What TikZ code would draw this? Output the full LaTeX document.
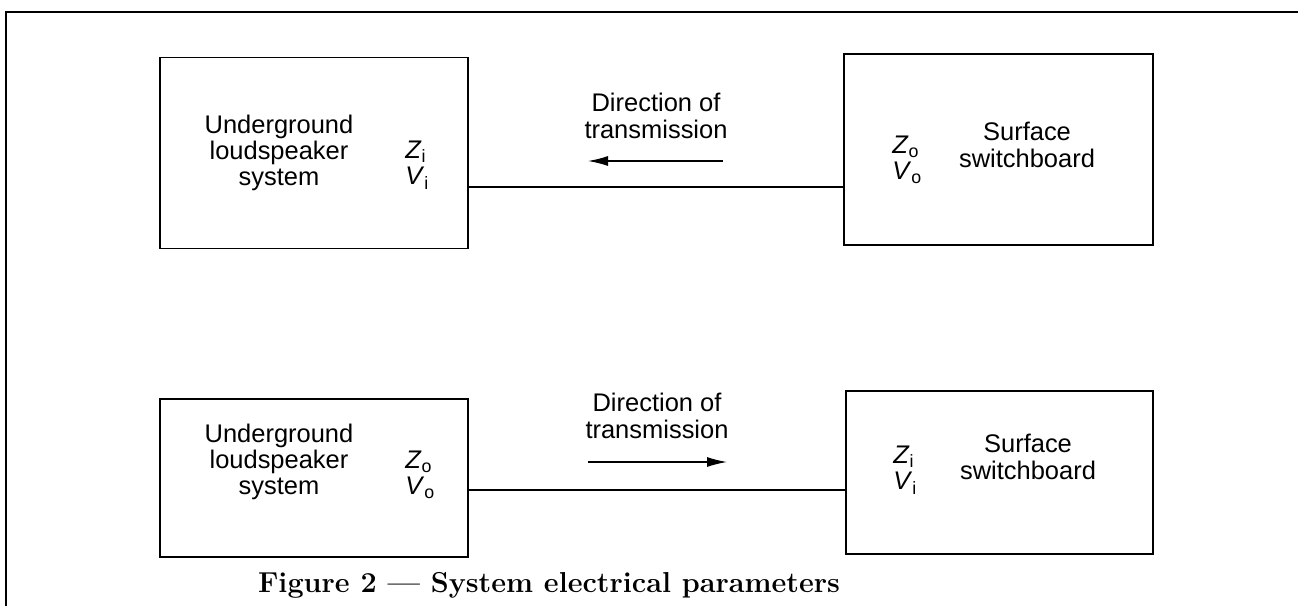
\documentclass[tikz,border=0pt]{standalone}
\usepackage{fontspec}
\usetikzlibrary{arrows.meta,positioning}
\newfontfamily\drawfont{Liberation Sans}
\tikzset{
  frame/.style={line width=1.2pt},
  box/.style={
    draw,
    line width=1pt,
    minimum width=6.16cm,
    inner sep=0pt
  },
  label/.style={
    align=center,
    inner sep=0pt,
    font=\drawfont\fontsize{14.5}{15}\selectfont
  },
  param/.style={label, align=left, anchor=west},
  wire/.style={line width=0.9pt},
  dirarrow/.style={-{Latex[length=4mm,width=2mm]}, line width=0.75pt},
  caption/.style={inner sep=0pt, font=\bfseries\fontsize{16.4}{18}\selectfont}
}

\begin{document}
\begin{tikzpicture}[x=0.02cm, y=-0.02cm]
  \useasboundingbox (0,0) rectangle (1298,606);
  \draw[frame] (6,606) |- (1298,12);

  % upper case: switchboard transmits
  \node[box, minimum height=3.82cm] (upsys) at (314,153) {};
  \node[box, minimum width=6.18cm, minimum height=3.82cm] (upsw) at (998.5,149.5) {};
  \node[label] (upsysname) at (279,153) {Underground\\loudspeaker\\system};
  \node[param] (upsyspar) at (405,165) {\textit{Z}\textsubscript{i}\\\textit{V}\textsubscript{i}};
  \node[label] (upswname) at (1027,145) {Surface\\switchboard};
  \node[param] (upswpar) at (892,160) {\textit{Z}\textsubscript{o}\\\textit{V}\textsubscript{o}};
  \node[label] (updir) at (656,116) {Direction of\\transmission};
  \coordinate (upa) at (723,161);
  \coordinate (upb) at (588,161);
  \coordinate (upline) at (0,187);
  \draw[wire] (upsys.east |- upline) -- (upsw.west |- upline);
  \draw[dirarrow] (upa) -- (upb);

  % lower case: loudspeaker system transmits
  \node[box, minimum height=3.16cm] (lowsys) at (314,478) {};
  \node[box, minimum width=6.14cm, minimum height=3.26cm] (lowsw) at (999.5,472.5) {};
  \node[label] (lowsysname) at (279,462) {Underground\\loudspeaker\\system};
  \node[param] (lowsyspar) at (405,475) {\textit{Z}\textsubscript{o}\\\textit{V}\textsubscript{o}};
  \node[label] (lowswname) at (1028,457) {Surface\\switchboard};
  \node[param] (lowswpar) at (893,470) {\textit{Z}\textsubscript{i}\\\textit{V}\textsubscript{i}};
  \node[label] (lowdir) at (657,416) {Direction of\\transmission};
  \coordinate (lowa) at (588,462);
  \coordinate (lowb) at (727,462);
  \coordinate (lowline) at (0,490);
  \draw[wire] (lowsys.east |- lowline) -- (lowsw.west |- lowline);
  \draw[dirarrow] (lowa) -- (lowb);

  \node[caption] (cap) at (549,585) {Figure 2 --- System electrical parameters};
\end{tikzpicture}
\end{document}
